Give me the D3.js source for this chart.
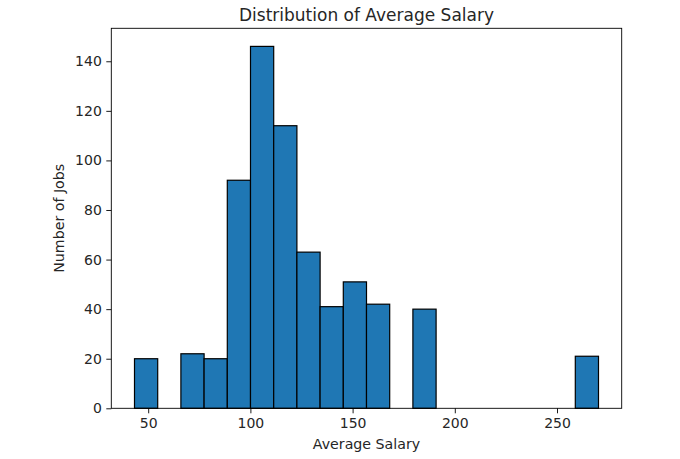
<!DOCTYPE html>
<html><head><meta charset="utf-8">
<script src="https://cdn.jsdelivr.net/npm/d3@7"></script>
<style>body{margin:0;background:#fff;} text{font-family:"DejaVu Sans",sans-serif;fill:#262626;}</style>
</head><body><svg id="c" width="680" height="459"></svg>
<script>
// Histogram data: bin edges start, bin width, and counts per bin
const binStart = 43.3;
const binWidth = 11.35;
const counts = [20, 0, 22, 20, 92, 146, 114, 63, 41, 51, 42, 0, 40, 0, 0, 0, 0, 0, 0, 21];
const xTicks = [50, 100, 150, 200, 250];
const yTicks = [0, 20, 40, 60, 80, 100, 120, 140];
const title = "Distribution of Average Salary";
const xLabel = "Average Salary";
const yLabel = "Number of Jobs";

const bins = counts.map((c, i) => ({x0: binStart + i*binWidth, x1: binStart + (i+1)*binWidth, n: c}));
const dataMin = bins[0].x0, dataMax = bins[bins.length-1].x1;
const pad = (dataMax - dataMin) * 0.05;
const ymax = d3.max(counts) * 1.05;

const L = 111.3, R = 621.7, T = 28.3, B = 408.3;
const svg = d3.select("#c");
const x = d3.scaleLinear().domain([dataMin - pad, dataMax + pad]).range([L, R]);
const y = d3.scaleLinear().domain([0, ymax]).range([B, T]);

svg.append("g").selectAll("rect").data(bins.filter(b => b.n > 0)).join("rect")
  .attr("x", d => x(d.x0)).attr("width", d => x(d.x1) - x(d.x0))
  .attr("y", d => y(d.n)).attr("height", d => y(0) - y(d.n))
  .attr("fill", "#1f77b4").attr("stroke", "#000").attr("stroke-width", 1.2);

const xa = svg.append("g").attr("transform", `translate(0,${B})`)
  .call(d3.axisBottom(x).tickValues(xTicks).tickSize(5).tickPadding(4.5));
const ya = svg.append("g").attr("transform", `translate(${L},0)`)
  .call(d3.axisLeft(y).tickValues(yTicks).tickSize(5).tickPadding(4.5));
[xa, ya].forEach(a => {
  a.select(".domain").remove();
  a.selectAll("line").attr("stroke", "#000").attr("stroke-width", 0.9);
  a.selectAll("text").style("font-family", '"DejaVu Sans",sans-serif').style("font-size", "14px").attr("fill", "#262626");
});

svg.append("rect").attr("x", L).attr("y", T).attr("width", R - L).attr("height", B - T)
  .attr("fill", "none").attr("stroke", "#000").attr("stroke-width", 0.9);

svg.append("text").attr("x", (L+R)/2).attr("y", 21).attr("text-anchor", "middle")
  .style("font-size", "17px").text(title);
svg.append("text").attr("x", (L+R)/2).attr("y", 449).attr("text-anchor", "middle")
  .style("font-size", "14.2px").text(xLabel);
svg.append("text").attr("transform", `translate(64,${(T+B)/2}) rotate(-90)`).attr("text-anchor", "middle")
  .style("font-size", "14.2px").text(yLabel);
</script></body></html>
